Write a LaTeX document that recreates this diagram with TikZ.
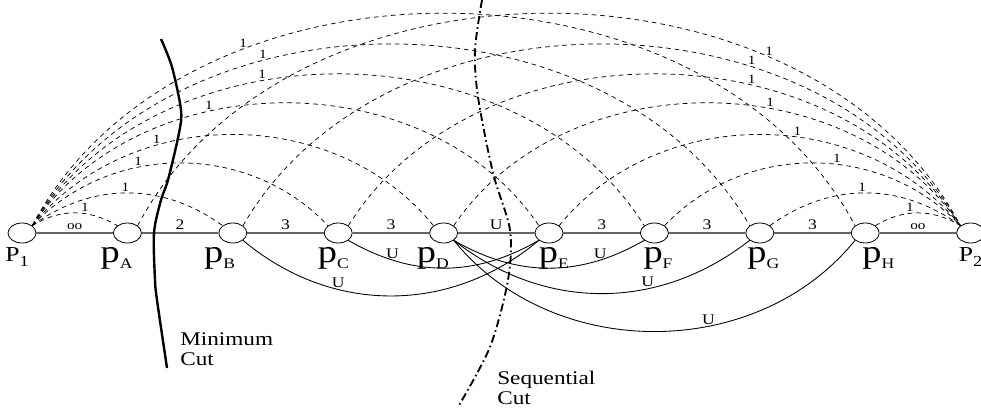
\documentclass[tikz,border=0pt]{standalone}
\usepackage{fontspec}
\setmainfont{Liberation Serif}
\usepackage{tikz}
\usetikzlibrary{shapes, positioning}

\newcommand{\bigp}[1]{{\fontsize{24}{24}\selectfont p}\raisebox{-4.5pt}{\fontsize{11}{11}\selectfont #1}}
\newcommand{\bigP}[1]{{\fontsize{16}{16}\selectfont P}\raisebox{-3.5pt}{\fontsize{11.5}{11.5}\selectfont #1}}
\newcommand{\infw}{{\fontsize{9.5}{9.5}\selectfont oo}}

\begin{document}
\begin{tikzpicture}[x=0.75pt, y=0.75pt,
    site/.style={draw, ellipse, fill=white, line width=0.6pt, minimum width=21pt, minimum height=15pt, inner sep=0pt},
    nlab/.style={xscale=1.2, inner sep=0pt, label distance=3pt},
    one/.style={font=\fontsize{9.5}{9.5}\selectfont, xscale=1.2, above, inner sep=1pt},
    wt/.style={font=\fontsize{11}{11}\selectfont, xscale=1.2, above, inner sep=2.2pt},
    ucap/.style={font=\fontsize{11}{11}\selectfont, xscale=1.2, above, inner sep=1pt},
    note/.style={font=\fontsize{14.5}{15}\selectfont, xscale=1.2, align=left, anchor=north west, inner sep=0pt},
    chain/.style={draw=black!60, line width=0.9pt},
    hop/.style={dash pattern=on 3.5pt off 3pt, line width=0.55pt},
    back/.style={line width=0.65pt},
    mincut/.style={line width=1.8pt},
    seqcut/.style={line width=1.4pt, dash pattern=on 6pt off 2.5pt on 1.2pt off 2.5pt}]
    \useasboundingbox (0,0) rectangle (981,412);

    % sites on the line
    \node[site, label={[nlab, xshift=-3pt]below:\bigP{1}}] (p1) at (22,179) {};
    \foreach \n/\dx [count=\k] in {A/-9,B/-11,C/-4,D/-9,E/4,F/3,G/3,H/11}
        \node[site, label={[nlab, xshift=\dx*0.75pt]below:\bigp{\n}}] (p\n) at ({22+105.4*\k},179) {};
    \node[site, label={[nlab]below:\bigP{2}}] (p2) at (970.6,179) {};

    % weights along the line
    \foreach \a/\b/\w in {p1/pA/\infw, pA/pB/2, pB/pC/3, pC/pD/3, pD/pE/U, pE/pF/3, pF/pG/3, pG/pH/3, pH/p2/\infw}
        \draw[chain] (\a) -- node[wt] {\w} (\b);

    % unit arcs from both ends
    \foreach \n/\bl/\pl/\br/\pr in {A/31/.62/62/.727, B/36/.49/60/.677, C/46.5/.37/58/.635, D/51/.33/56/.607,
                                    E/56/.37/51/.583, F/58/.395/46.5/.575, G/60/.35/36/.485, H/62/.295/31/.405} {
        \draw[hop] (p1.north east) to[bend left=\bl] node[one, pos=\pl] {1} (p\n.north west);
        \draw[hop] (p\n.north east) to[bend left=\br] node[one, pos=\pr] {1} (p2.north west);
    }

    % arcs below
    \draw[back] (pB.south east) to[bend right=40] node[ucap, pos=.33] {U} (pE.south west);
    \draw[back] (pC.south east) to[bend right=30] node[ucap, pos=.23] {U} (pE.south west);
    \draw[back] (pD.south east) to[bend right=30] node[ucap, pos=.77] {U} (pF.south west);
    \draw[back] (pD.south east) to[bend right=38] node[ucap, pos=.65] {U} (pG.south west);
    \draw[back] (pD.south east) to[bend right=51] node[ucap, pos=.62] {U} (pH.south west);

    % the two cuts
    \draw[mincut] plot[smooth] coordinates {(161,373) (172,345) (181,302) (179,279) (168,232) (161,212) (154,179) (155,132) (157,112) (167,44)};
    \draw[seqcut] plot[smooth] coordinates {(482,412) (475,362) (478,315) (493,239) (510,182) (508,132) (490,65) (458,5)};
    \node[note] (mintxt) at (180,80) {Minimum\\Cut};
    \node[note] (seqtxt) at (497,41) {Sequential\\Cut};
\end{tikzpicture}
\end{document}
